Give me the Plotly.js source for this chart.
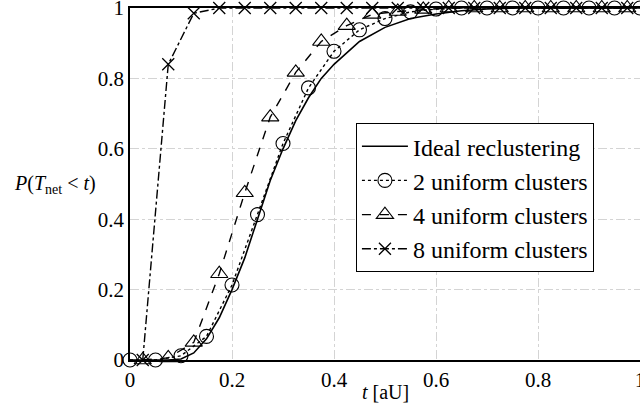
<!DOCTYPE html>
<html>
<head>
<meta charset="utf-8">
<script src="https://cdn.plot.ly/plotly-3.0.1.min.js"></script>
<style>
html,body{margin:0;padding:0;background:#fff;}
#chart svg text{font-family:"Liberation Serif","Times New Roman",serif !important;}
</style>
</head>
<body>
<div id="chart"></div>
<script>
// Ideal reclustering (solid line, no markers)
const idealT = [0, 0.025, 0.05, 0.075, 0.1, 0.125, 0.15, 0.175, 0.2, 0.225, 0.25, 0.275, 0.3, 0.325, 0.35, 0.375, 0.4, 0.45, 0.5, 0.55, 0.6, 0.65, 0.7, 0.75, 0.8, 0.85, 0.9, 0.95, 1.0];
const idealP = [0, 0, 0, 0, 0.003, 0.02, 0.06, 0.12, 0.2, 0.29, 0.40, 0.51, 0.60, 0.68, 0.745, 0.80, 0.84, 0.905, 0.945, 0.97, 0.983, 0.992, 0.997, 1, 1, 1, 1, 1, 1];

// 2 uniform clusters (circles, dotted)
const twoT = [0, 0.05, 0.1, 0.15, 0.2, 0.25, 0.3, 0.35, 0.4, 0.45, 0.5, 0.55, 0.6, 0.65, 0.7, 0.75, 0.8, 0.85, 0.9, 0.95, 1.0];
const twoP = [0, 0, 0.012, 0.067, 0.213, 0.413, 0.615, 0.773, 0.877, 0.938, 0.97, 0.989, 0.997, 1, 1, 1, 1, 1, 1, 1, 1];

// 4 uniform clusters (triangles, dashed)
const fourT = [0.025, 0.075, 0.125, 0.175, 0.225, 0.275, 0.325, 0.375, 0.425, 0.475, 0.525, 0.575, 0.625, 0.675, 0.725, 0.775, 0.825, 0.875, 0.925, 0.975];
const fourP = [0, 0.006, 0.05, 0.245, 0.475, 0.69, 0.817, 0.905, 0.95, 0.982, 0.99, 0.996, 1, 1, 1, 1, 1, 1, 1, 1];

// 8 uniform clusters (x, dash-dot)
const eightT = [0.025, 0.075, 0.125, 0.175, 0.225, 0.275, 0.325, 0.375, 0.425, 0.475, 0.525, 0.575, 0.625, 0.675, 0.725, 0.775, 0.825, 0.875, 0.925, 0.975];
const eightP = [0, 0.84, 0.985, 1, 1, 1, 1, 1, 1, 1, 1, 1, 1, 1, 1, 1, 1, 1, 1, 1];

const names = ["Ideal reclustering", "2 uniform clusters", "4 uniform clusters", "8 uniform clusters"];
const xTicks = [0, 0.2, 0.4, 0.6, 0.8, 1];
const yTicks = [0, 0.2, 0.4, 0.6, 0.8, 1];

const FAM = "Liberation Serif";
const TXT = "#000000";

const traces = [
  {x: idealT, y: idealP, name: names[0], mode: "lines", type: "scatter",
   line: {color: "#000000", width: 1.6, dash: "solid"}, cliponaxis: false},
  {x: twoT, y: twoP, name: names[1], mode: "lines+markers", type: "scatter",
   line: {color: "#000000", width: 1.4, dash: "dot"},
   marker: {symbol: "circle-open", size: 14, color: "#000000", line: {width: 1.1, color: "#000000"}}, cliponaxis: false},
  {x: fourT, y: fourP, name: names[2], mode: "lines+markers", type: "scatter",
   line: {color: "#000000", width: 1.4, dash: "dash"},
   marker: {symbol: "triangle-up-open", size: 15, color: "#000000", line: {width: 1.1, color: "#000000"}}, cliponaxis: false},
  {x: eightT, y: eightP, name: names[3], mode: "lines+markers", type: "scatter",
   line: {color: "#000000", width: 1.4, dash: "dashdot"},
   marker: {symbol: "x-thin-open", size: 12, color: "#000000", line: {width: 1.3, color: "#000000"}}, cliponaxis: false}
];

const layout = {
  width: 640, height: 407,
  margin: {l: 130, r: 0, t: 8, b: 47},
  paper_bgcolor: "#ffffff", plot_bgcolor: "#ffffff",
  font: {family: FAM, size: 21, color: TXT},
  showlegend: true,
  legend: {
    x: 0.443, y: 0.673, xanchor: "left", yanchor: "top",
    bgcolor: "#ffffff", bordercolor: "#000000", borderwidth: 1,
    font: {family: FAM, size: 24, color: TXT},
    itemwidth: 46, tracegroupgap: 0
  },
  xaxis: {
    range: [0, 1], tickvals: xTicks, ticktext: xTicks.map(String),
    showline: true, linecolor: "#000000", linewidth: 1.5, mirror: true,
    showgrid: true, gridcolor: "#d4d4d4", gridwidth: 1, griddash: "dashdot",
    zeroline: false, ticks: "", ticklabeloverflow: "allow",
    tickfont: {family: FAM, size: 21, color: TXT},
    fixedrange: true
  },
  yaxis: {
    range: [0, 1], tickvals: yTicks, ticktext: yTicks.map(String),
    showline: true, linecolor: "#000000", linewidth: 1.5, mirror: true,
    showgrid: true, gridcolor: "#d4d4d4", gridwidth: 1, griddash: "dashdot",
    zeroline: false, ticks: "", ticklabeloverflow: "allow",
    tickfont: {family: FAM, size: 21, color: TXT},
    fixedrange: true
  },
  annotations: [
    {text: "<i>P</i>(<i>T</i><sub>net</sub> &lt; <i>t</i>)", xref: "paper", yref: "paper",
     x: -0.147, y: 0.5, xanchor: "center", yanchor: "middle", showarrow: false,
     font: {family: FAM, size: 20, color: TXT}},
    {text: "<i>t</i> [aU]", xref: "paper", yref: "paper",
     x: 0.5, y: -0.091, xanchor: "center", yanchor: "middle", showarrow: false,
     font: {family: FAM, size: 20, color: TXT}}
  ]
};

Plotly.newPlot("chart", traces, layout, {displayModeBar: false});
</script>
</body>
</html>
